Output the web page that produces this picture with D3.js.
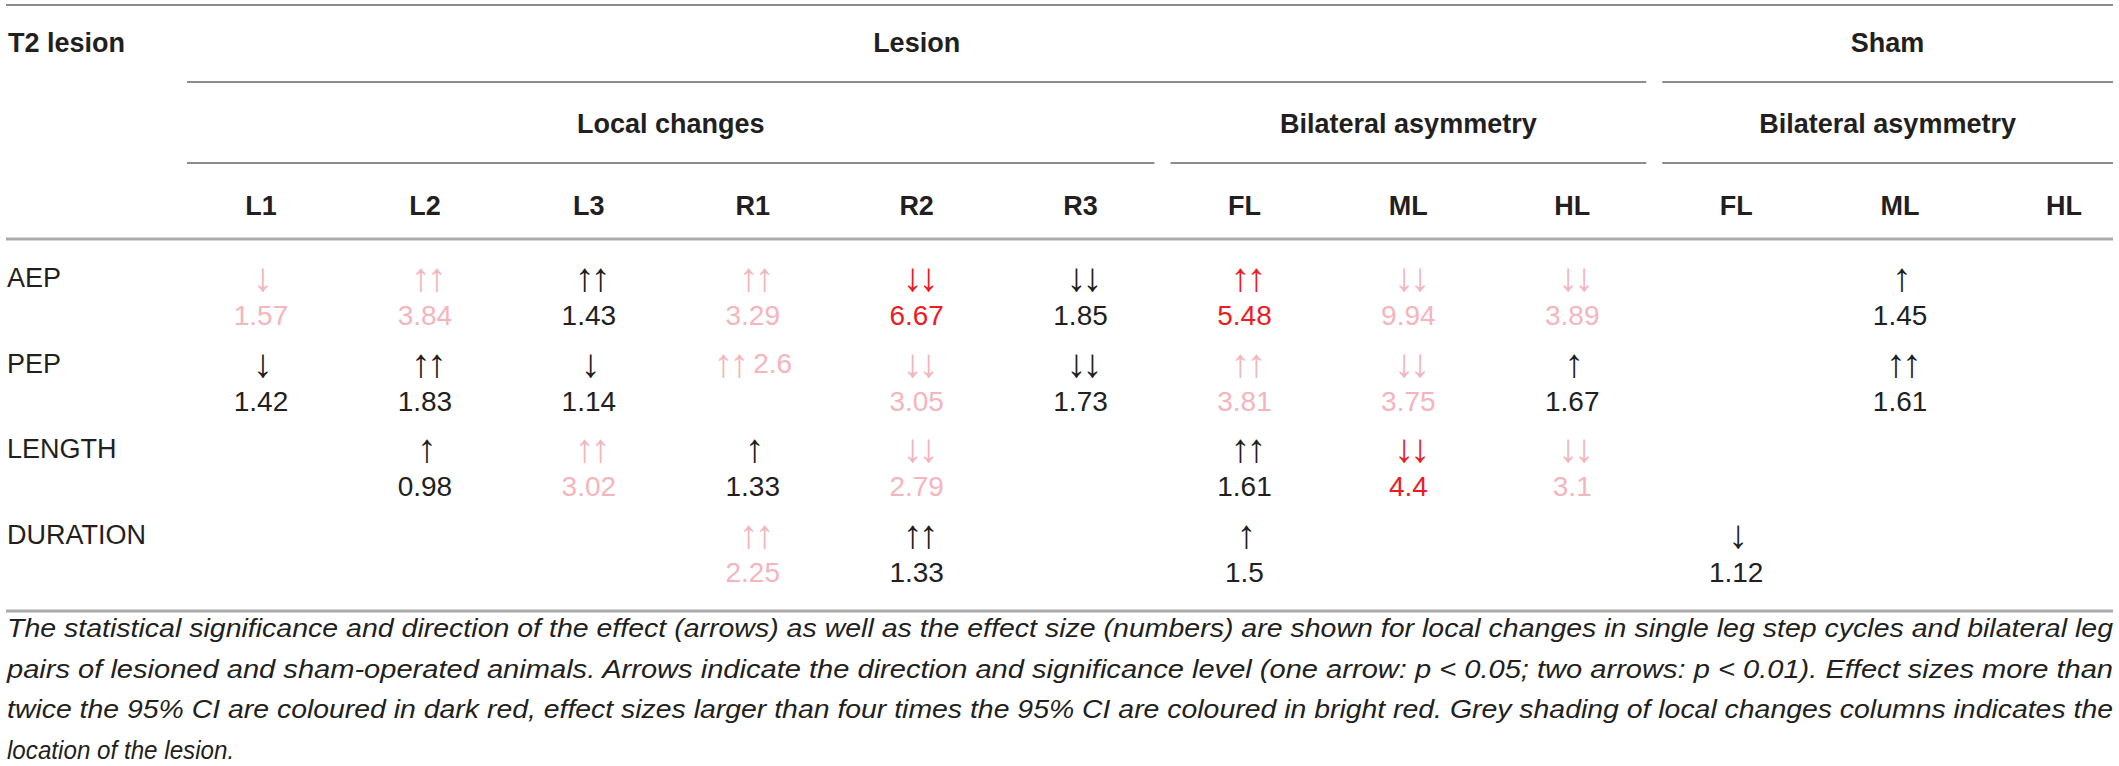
<!DOCTYPE html>
<html>
<head>
<meta charset="utf-8">
<script src="https://cdn.jsdelivr.net/npm/d3@7"></script>
<style>
  body { margin: 0; background: #fff; }
  text { font-family: "Liberation Sans", Arial, Helvetica, sans-serif; }
</style>
</head>
<body>
<div id="table"></div>
<script>
// Table content
const colKeys = ["L1", "L2", "L3", "R1", "R2", "R3", "FL", "ML", "HL", "sFL", "sML", "sHL"];
const colLabels = ["L1", "L2", "L3", "R1", "R2", "R3", "FL", "ML", "HL", "FL", "ML", "HL"];
const rowLabels = ["AEP", "PEP", "LENGTH", "DURATION"];

// arrows per row (null = empty cell)
const arrowRows = [
  ["↓", "↑↑", "↑↑", "↑↑", "↓↓", "↓↓", "↑↑", "↓↓", "↓↓", null, "↑", null],
  ["↓", "↑↑", "↓", "↑↑", "↓↓", "↓↓", "↑↑", "↓↓", "↑", null, "↑↑", null],
  [null, "↑", "↑↑", "↑", "↓↓", null, "↑↑", "↓↓", "↓↓", null, null, null],
  [null, null, null, "↑↑", "↑↑", null, "↑", null, null, "↓", null, null]
];
// effect sizes per row
const valueRows = [
  ["1.57", "3.84", "1.43", "3.29", "6.67", "1.85", "5.48", "9.94", "3.89", null, "1.45", null],
  ["1.42", "1.83", "1.14", "2.6", "3.05", "1.73", "3.81", "3.75", "1.67", null, "1.61", null],
  [null, "0.98", "3.02", "1.33", "2.79", null, "1.61", "4.4", "3.1", null, null, null],
  [null, null, null, "2.25", "1.33", null, "1.5", null, null, "1.12", null, null]
];
// colour level: 0 = black, 1 = > 2x CI, 2 = > 4x CI
const levelRows = [
  [1, 1, 0, 1, 2, 0, 2, 1, 1, 0, 0, 0],
  [0, 0, 0, 1, 1, 0, 1, 1, 0, 0, 0, 0],
  [0, 0, 1, 0, 1, 0, 0, 2, 1, 0, 0, 0],
  [0, 0, 0, 1, 0, 0, 0, 0, 0, 0, 0, 0]
];
// cells where arrow and number share one line [row, col]
const inlineCells = [[1, 3]];

// Column groups
const groups = [
  {label: "Local changes", from: "L1", to: "R3"},
  {label: "Bilateral asymmetry", from: "FL", to: "HL"},
  {label: "Bilateral asymmetry", from: "sFL", to: "sHL"}
];
const topGroups = [
  {label: "Lesion", from: "L1", to: "HL"},
  {label: "Sham", from: "sFL", to: "sHL"}
];

const captionLines = [
  "The statistical significance and direction of the effect (arrows) as well as the effect size (numbers) are shown for local changes in single leg step cycles and bilateral leg",
  "pairs of lesioned and sham-operated animals. Arrows indicate the direction and significance level (one arrow: p < 0.05; two arrows: p < 0.01). Effect sizes more than",
  "twice the 95% CI are coloured in dark red, effect sizes larger than four times the 95% CI are coloured in bright red. Grey shading of local changes columns indicates the",
  "location of the lesion."
];

let width = 2119, height = 766;
let left = 6, right = 2113;
let colors = ["#231f20", "#f5b5bc", "#ec1c24"];

var svg = d3.select("#table")
  .append("svg")
    .attr("width", width)
    .attr("height", height);

// scales
var x = d3.scalePoint()
  .domain(colKeys)
  .range([261, 2064]);
var y = d3.scalePoint()
  .domain(rowLabels)
  .range([287, 544]);
let half = x.step() / 2;
let pad = 8;

function spanOf(g) {
  return [x(g.from) - half + pad, Math.min(x(g.to) + half - pad, right)];
}

// horizontal rules
function rule(x1, x2, yy, color, w) {
  svg.append("line")
    .attr("x1", x1).attr("x2", x2)
    .attr("y1", yy).attr("y2", yy)
    .attr("stroke", color)
    .attr("stroke-width", w);
}
rule(left, right, 5, "#8c8c8c", 2);
rule(left, right, 239, "#aaaaaa", 3);
rule(left, right, 611, "#aaaaaa", 3);

// Top header
svg.append("text")
  .attr("x", 8).attr("y", 52)
  .attr("font-size", 27).attr("font-weight", "bold")
  .attr("fill", colors[0])
  .text("T2 lesion");

topGroups.forEach(g => {
  let s = spanOf(g);
  svg.append("text")
    .attr("x", (s[0] + s[1]) / 2).attr("y", 52)
    .attr("text-anchor", "middle")
    .attr("font-size", 27).attr("font-weight", "bold")
    .attr("fill", colors[0])
    .text(g.label);
  rule(s[0], s[1], 82, "#8c8c8c", 2);
});

groups.forEach(g => {
  let s = spanOf(g);
  svg.append("text")
    .attr("x", (s[0] + s[1]) / 2).attr("y", 133)
    .attr("text-anchor", "middle")
    .attr("font-size", 27).attr("font-weight", "bold")
    .attr("fill", colors[0])
    .text(g.label);
  rule(s[0], s[1], 163, "#8c8c8c", 2);
});

// column headers
svg.selectAll(".colhead")
  .data(colKeys)
  .enter()
  .append("text")
    .attr("class", "colhead")
    .attr("x", d => x(d))
    .attr("y", 215)
    .attr("text-anchor", "middle")
    .attr("font-size", 27).attr("font-weight", "bold")
    .attr("fill", colors[0])
    .text((d, i) => colLabels[i]);

// row labels
svg.selectAll(".rowlab")
  .data(rowLabels)
  .enter()
  .append("text")
    .attr("class", "rowlab")
    .attr("x", 7)
    .attr("y", d => y(d))
    .attr("font-size", 27)
    .attr("fill", colors[0])
    .text(d => d);

// cells
let cells = [];
rowLabels.forEach((r, i) => {
  colKeys.forEach((c, j) => {
    if (arrowRows[i][j] == null && valueRows[i][j] == null) return;
    let inline = inlineCells.some(p => p[0] == i && p[1] == j);
    cells.push({row: r, col: c, arrow: arrowRows[i][j], value: valueRows[i][j],
                level: levelRows[i][j], inline: inline});
  });
});

let arrowSize = 40;
let cellG = svg.append("g");
cells.forEach(d => {
  let fill = colors[d.level];
  if (d.inline) {
    let t = cellG.append("text")
      .attr("x", x(d.col)).attr("y", y(d.row))
      .attr("text-anchor", "middle")
      .attr("font-size", 28)
      .attr("fill", fill);
    t.append("tspan").attr("font-size", arrowSize).attr("dy", 4)
      .attr("letter-spacing", -4).text(d.arrow);
    t.append("tspan").attr("dy", -4).text(" " + d.value);
    return;
  }
  // arrows: pair drawn a bit tighter
  let a = cellG.append("text")
    .attr("y", y(d.row) + 4)
    .attr("font-size", arrowSize)
    .attr("letter-spacing", -4)
    .attr("fill", fill)
    .text(d.arrow);
  let aw = a.node().getBBox().width;
  a.attr("x", x(d.col) - aw / 2 + (d.arrow.length > 1 ? 2 : 0));
  cellG.append("text")
    .attr("x", x(d.col)).attr("y", y(d.row) + 38)
    .attr("text-anchor", "middle")
    .attr("font-size", 28)
    .attr("fill", fill)
    .text(d.value);
});

// caption, justified to the table width
captionLines.forEach((line, i) => {
  let t = svg.append("text")
    .attr("x", 7)
    .attr("y", 637 + i * 40.7)
    .attr("font-size", 26)
    .attr("font-style", "italic")
    .attr("fill", colors[0])
    .text(line);
  if (i < captionLines.length - 1) {
    t.attr("textLength", right - 7)
     .attr("lengthAdjust", "spacingAndGlyphs");
  } else {
    t.attr("textLength", t.node().getComputedTextLength() * 0.93)
     .attr("lengthAdjust", "spacingAndGlyphs");
  }
});
</script>
</body>
</html>
